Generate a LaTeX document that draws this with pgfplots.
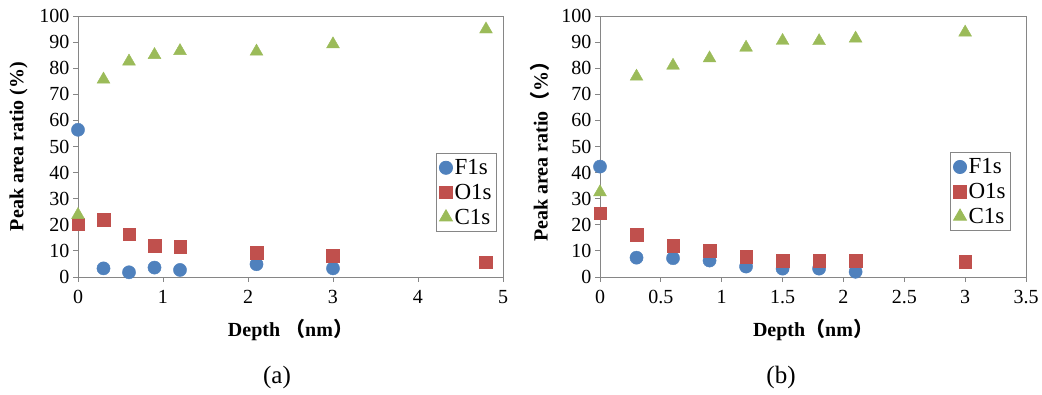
\documentclass[border=0pt]{standalone}
\usepackage{fontspec}
\setmainfont{Liberation Serif}
\newfontfamily\cjk{Noto Sans CJK SC}
\usepackage{pgfplots}
\pgfplotsset{compat=1.18}
\definecolor{cF}{HTML}{4F81BD}
\definecolor{cO}{HTML}{C0504D}
\definecolor{cC}{HTML}{9BBB59}
\definecolor{axgray}{HTML}{868686}
\pgfplotsset{
  xpsstyle/.style={
    scale only axis, height=261pt,
    ymin=0, ymax=100, ytick={0,10,...,100},
    tick align=outside, xtick pos=bottom, ytick pos=left,
    major tick length=5pt,
    axis line style={axgray, line width=0.8pt},
    every tick/.style={axgray, line width=0.8pt},
    /pgf/number format/assume math mode=true,
    tick label style={font=\fontsize{20}{20}\selectfont},
    xticklabel style={yshift=-5pt},
    label style={font=\fontsize{20}{20}\selectfont\bfseries},
    xlabel style={yshift=-8pt},
    ylabel style={yshift=5pt},
    legend style={draw=axgray, line width=0.8pt, font=\fontsize{23}{26}\selectfont,
      inner xsep=3pt, inner ysep=4pt, row sep=4pt, cells={anchor=west}},
    legend image post style={scale=1},
    legend cell align=left,
    only marks,
  },
  Fs/.style={mark=*, mark size=6.6pt, mark options={fill=cF, draw=cF}},
  Os/.style={mark=square*, mark size=6.3pt, mark options={fill=cO, draw=cO}},
  Cs/.style={mark=triangle*, mark size=7.4pt, mark options={fill=cC, draw=cC}},
}
\begin{document}
\begin{tikzpicture}[x=1pt,y=1pt]
\useasboundingbox (0,0) rectangle (1042,395);
\begin{axis}[xpsstyle, at={(78pt,118pt)}, anchor=south west, width=425pt,
  xmin=0, xmax=5, xtick={0,1,...,5},
  xlabel={Depth {\cjk（}nm{\cjk）}},
  ylabel={Peak area ratio (\%)},
  legend style={at={(0.986,0.475)}, anchor=north east}]
\addplot+[Fs] coordinates {(0,56.4) (0.3,3.3) (0.6,1.8) (0.9,3.6) (1.2,2.7) (2.1,4.9) (3,3.3)};
\addlegendentry{F1s}
\addplot+[Os] coordinates {(0,20.2) (0.3,21.9) (0.6,16.4) (0.9,11.9) (1.2,11.5) (2.1,9.3) (3,8.1) (4.8,5.6)};
\addlegendentry{O1s}
\addplot+[Cs] coordinates {(0,23.8) (0.3,75.7) (0.6,82.6) (0.9,85.1) (1.2,86.6) (2.1,86.4) (3,89.2) (4.8,94.9)};
\addlegendentry{C1s}
\end{axis}
\begin{axis}[xpsstyle, at={(600pt,118pt)}, anchor=south west, width=426pt,
  xmin=0, xmax=3.5, xtick={0,0.5,...,3.5},
  xlabel={Depth{\cjk（}nm{\cjk）}},
  ylabel={Peak area ratio{\cjk（}\%{\cjk）}},
  legend style={at={(0.965,0.478)}, anchor=north east}]
\addplot+[Fs] coordinates {(0,42.3) (0.3,7.4) (0.6,7.2) (0.9,6.3) (1.2,4.0) (1.5,3.2) (1.8,3.2) (2.1,2.0)};
\addlegendentry{F1s}
\addplot+[Os] coordinates {(0,24.4) (0.3,16.3) (0.6,12.0) (0.9,10.0) (1.2,7.8) (1.5,6.3) (1.8,6.3) (2.1,6.3) (3,5.9)};
\addlegendentry{O1s}
\addplot+[Cs] coordinates {(0,32.5) (0.3,76.8) (0.6,81.0) (0.9,83.8) (1.2,87.9) (1.5,90.5) (1.8,90.4) (2.1,91.4) (3,93.7)};
\addlegendentry{C1s}
\end{axis}
\node[font=\fontsize{25}{25}\selectfont] at (277,18) {(a)};
\node[font=\fontsize{25}{25}\selectfont] at (781,18) {(b)};
\end{tikzpicture}
\end{document}
